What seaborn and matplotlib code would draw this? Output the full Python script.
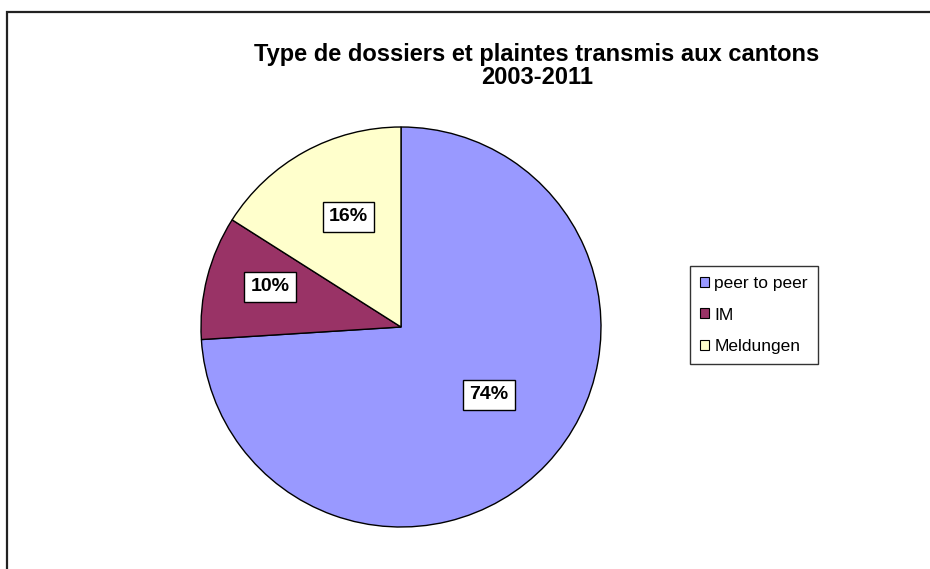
import numpy as np
import matplotlib
matplotlib.use("Agg")
import matplotlib.pyplot as plt
import matplotlib.patches as mpatches
import seaborn as sns

# data
categories = ['peer to peer', 'IM', 'Meldungen']
shares = [74, 10, 16]
pct_labels = ['74%', '10%', '16%']
colors = ['#9999FF', '#993366', '#FFFFCC']
# placement of each % box: fraction of radius, angle shift from wedge middle
label_radius = [0.555, 0.685, 0.61]
label_shift = [5.5, -2.6, -3.3]

title = 'Type de dossiers et plaintes transmis aux cantons\n2003-2011'

sns.set_theme(style='white')
plt.rcParams['font.family'] = ['Liberation Sans', 'DejaVu Sans']
plt.rcParams['text.color'] = 'black'

fig = plt.figure(figsize=(9.3, 5.69), dpi=100)
fig.patch.set_facecolor('white')

# pie area: centre ~ (401, 327) px, radius ~200 px
ax = fig.add_axes([201 / 930, 42 / 569, 400 / 930, 400 / 569])
wedges, _ = ax.pie(shares, colors=colors, startangle=90, counterclock=False,
                   wedgeprops=dict(edgecolor='black', linewidth=1))
ax.set_xlim(-1, 1)
ax.set_ylim(-1, 1)
ax.set_aspect('equal')
ax.axis('off')

for w, lab, rf, sh in zip(wedges, pct_labels, label_radius, label_shift):
    ang = np.deg2rad((w.theta1 + w.theta2) / 2 + sh)
    ax.text(rf * np.cos(ang), rf * np.sin(ang), lab, ha='center', va='center',
            fontsize=14, fontweight='bold', color='black',
            bbox=dict(boxstyle='square,pad=0.32', facecolor='white',
                      edgecolor='black', linewidth=1))

fig.text(537 / 930, 1 - 66 / 569, title, ha='center', va='center',
         fontsize=17, fontweight='bold', linespacing=1.0, color='black')

leg = fig.legend(wedges, categories, loc='center left',
                 bbox_to_anchor=(690 / 930, 1 - 315 / 569),
                 frameon=True, fancybox=False, fontsize=12.5,
                 handlelength=0.5, handleheight=0.5, handletextpad=0.3,
                 labelspacing=0.95, borderpad=0.6, borderaxespad=0)
leg.get_frame().set_edgecolor('black')
leg.get_frame().set_linewidth(1)
for t in leg.get_texts():
    t.set_color('black')
for h in leg.legend_handles:
    h.set_edgecolor('black')
    h.set_linewidth(0.8)

# outer chart border (only top and left visible in the crop)
fig.patches.append(mpatches.Rectangle((7 / 930, -0.5), 1.5, 1.5 - 12 / 569,
                                      transform=fig.transFigure, fill=False,
                                      edgecolor='#222222', linewidth=1.6))

fig.savefig('out.png', dpi=100, facecolor='white')
